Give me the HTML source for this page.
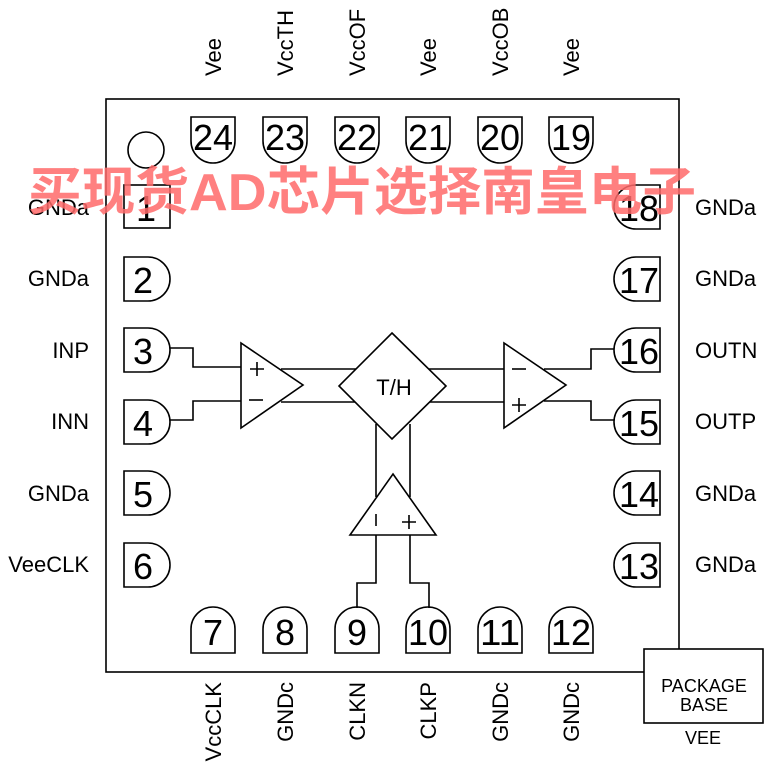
<!DOCTYPE html>
<html><head><meta charset="utf-8"><style>
html,body{margin:0;padding:0;background:#fff;}
svg{display:block;}
text{font-family:"Liberation Sans",sans-serif;fill:#000;}
</style></head><body>
<svg width="765" height="772" viewBox="0 0 765 772" xmlns="http://www.w3.org/2000/svg">
<g fill="none" stroke="#000" stroke-width="1.6">
<rect x="106" y="99" width="573" height="573"/>
<rect x="644" y="649" width="119" height="74" fill="#fff"/>
<circle cx="146" cy="150" r="18"/>
<path d="M191 117 H235 V141 A22 22 0 0 1 191 141 Z"/>
<path d="M263 117 H307 V141 A22 22 0 0 1 263 141 Z"/>
<path d="M335 117 H379 V141 A22 22 0 0 1 335 141 Z"/>
<path d="M406 117 H450 V141 A22 22 0 0 1 406 141 Z"/>
<path d="M478 117 H522 V141 A22 22 0 0 1 478 141 Z"/>
<path d="M549 117 H593 V141 A22 22 0 0 1 549 141 Z"/>
<path d="M191 653 H235 V629 A22 22 0 0 0 191 629 Z"/>
<path d="M263 653 H307 V629 A22 22 0 0 0 263 629 Z"/>
<path d="M335 653 H379 V629 A22 22 0 0 0 335 629 Z"/>
<path d="M406 653 H450 V629 A22 22 0 0 0 406 629 Z"/>
<path d="M478 653 H522 V629 A22 22 0 0 0 478 629 Z"/>
<path d="M549 653 H593 V629 A22 22 0 0 0 549 629 Z"/>
<rect x="124" y="185" width="46" height="43"/>
<path d="M124 257 H148 A22 22 0 0 1 148 301 H124 Z"/>
<path d="M124 328 H148 A22 22 0 0 1 148 372 H124 Z"/>
<path d="M124 400 H148 A22 22 0 0 1 148 444 H124 Z"/>
<path d="M124 471 H148 A22 22 0 0 1 148 515 H124 Z"/>
<path d="M124 543 H148 A22 22 0 0 1 148 587 H124 Z"/>
<path d="M660 185 H636 A22 22 0 0 0 636 229 H660 Z"/>
<path d="M660 257 H636 A22 22 0 0 0 636 301 H660 Z"/>
<path d="M660 328 H636 A22 22 0 0 0 636 372 H660 Z"/>
<path d="M660 400 H636 A22 22 0 0 0 636 444 H660 Z"/>
<path d="M660 471 H636 A22 22 0 0 0 636 515 H660 Z"/>
<path d="M660 543 H636 A22 22 0 0 0 636 587 H660 Z"/>
<polyline points="170,348 193,348 193,367 241,367"/>
<polyline points="170,420 193,420 193,401 241,401"/>
<line x1="281" y1="369" x2="356" y2="369"/>
<line x1="281" y1="402" x2="356" y2="402"/>
<line x1="429" y1="369" x2="504" y2="369"/>
<line x1="429" y1="402" x2="504" y2="402"/>
<polyline points="544,369 591,369 591,349 614,349"/>
<polyline points="544,401 591,401 591,420 614,420"/>
<line x1="376" y1="424" x2="376" y2="497"/>
<line x1="410" y1="424" x2="410" y2="497"/>
<polyline points="376,535 376,583 357,583 357,608"/>
<polyline points="410,535 410,583 429,583 429,608"/>
<polygon points="241,343 241,428 303,385" fill="#fff"/>
<polygon points="504,343 504,428 566,385" fill="#fff"/>
<polygon points="392,333 446,386 392,439 339,386" fill="#fff"/>
<polygon points="393,474 436,535 350,535" fill="#fff"/>
<path d="M250 369 h14 M257 362 v14"/>
<path d="M249 400 h14"/>
<path d="M512 369 h14"/>
<path d="M512 405 h14 M519 398 v14"/>
<path d="M376 514 v12"/>
<path d="M402 522 h14 M409 515 v14"/>
</g>
<text x="394" y="395" font-size="22" text-anchor="middle">T/H</text>
<g font-size="22" text-anchor="end">
<text x="89" y="215">GNDa</text>
<text x="89" y="286">GNDa</text>
<text x="89" y="358">INP</text>
<text x="89" y="429">INN</text>
<text x="89" y="501">GNDa</text>
<text x="89" y="572">VeeCLK</text>
</g>
<g font-size="22">
<text x="695" y="215">GNDa</text>
<text x="695" y="286">GNDa</text>
<text x="695" y="358">OUTN</text>
<text x="695" y="429">OUTP</text>
<text x="695" y="501">GNDa</text>
<text x="695" y="572">GNDa</text>
</g>
<g font-size="22">
<text transform="translate(221,76) rotate(-90)">Vee</text>
<text transform="translate(293,76) rotate(-90)">VccTH</text>
<text transform="translate(365,76) rotate(-90)">VccOF</text>
<text transform="translate(436,76) rotate(-90)">Vee</text>
<text transform="translate(508,76) rotate(-90)">VccOB</text>
<text transform="translate(579,76) rotate(-90)">Vee</text>
</g>
<g font-size="22" text-anchor="end">
<text transform="translate(221,682) rotate(-90)">VccCLK</text>
<text transform="translate(293,682) rotate(-90)">GNDc</text>
<text transform="translate(365,682) rotate(-90)">CLKN</text>
<text transform="translate(436,682) rotate(-90)">CLKP</text>
<text transform="translate(508,682) rotate(-90)">GNDc</text>
<text transform="translate(579,682) rotate(-90)">GNDc</text>
</g>
<g font-size="36" text-anchor="middle" lengthAdjust="spacingAndGlyphs">
<text x="213" y="150" textLength="40" lengthAdjust="spacingAndGlyphs">24</text>
<text x="285" y="150" textLength="40" lengthAdjust="spacingAndGlyphs">23</text>
<text x="357" y="150" textLength="40" lengthAdjust="spacingAndGlyphs">22</text>
<text x="428" y="150" textLength="40" lengthAdjust="spacingAndGlyphs">21</text>
<text x="500" y="150" textLength="40" lengthAdjust="spacingAndGlyphs">20</text>
<text x="571" y="150" textLength="40" lengthAdjust="spacingAndGlyphs">19</text>
<text x="213" y="645">7</text>
<text x="285" y="645">8</text>
<text x="357" y="645">9</text>
<text x="428" y="645" textLength="40" lengthAdjust="spacingAndGlyphs">10</text>
<text x="500" y="645" textLength="40" lengthAdjust="spacingAndGlyphs">11</text>
<text x="571" y="645" textLength="40" lengthAdjust="spacingAndGlyphs">12</text>
<text x="146" y="221">1</text>
<text x="143" y="293">2</text>
<text x="143" y="364">3</text>
<text x="143" y="436">4</text>
<text x="143" y="507">5</text>
<text x="143" y="579">6</text>
<text x="639" y="221" textLength="40" lengthAdjust="spacingAndGlyphs">18</text>
<text x="639" y="293" textLength="40" lengthAdjust="spacingAndGlyphs">17</text>
<text x="639" y="364" textLength="40" lengthAdjust="spacingAndGlyphs">16</text>
<text x="639" y="436" textLength="40" lengthAdjust="spacingAndGlyphs">15</text>
<text x="639" y="507" textLength="40" lengthAdjust="spacingAndGlyphs">14</text>
<text x="639" y="579" textLength="40" lengthAdjust="spacingAndGlyphs">13</text>
</g>
<g font-size="18" text-anchor="middle">
<text x="704" y="692">PACKAGE</text>
<text x="704" y="711">BASE</text>
<text x="703" y="744">VEE</text>
</g>
<text x="362" y="210" font-size="52" font-weight="bold" text-anchor="middle" textLength="668" lengthAdjust="spacingAndGlyphs" style="fill:#ff6a6a;font-family:'Liberation Sans','Noto Sans CJK SC',sans-serif" fill-opacity="0.85">买现货AD芯片选择南皇电子</text>
</svg>
</body></html>
